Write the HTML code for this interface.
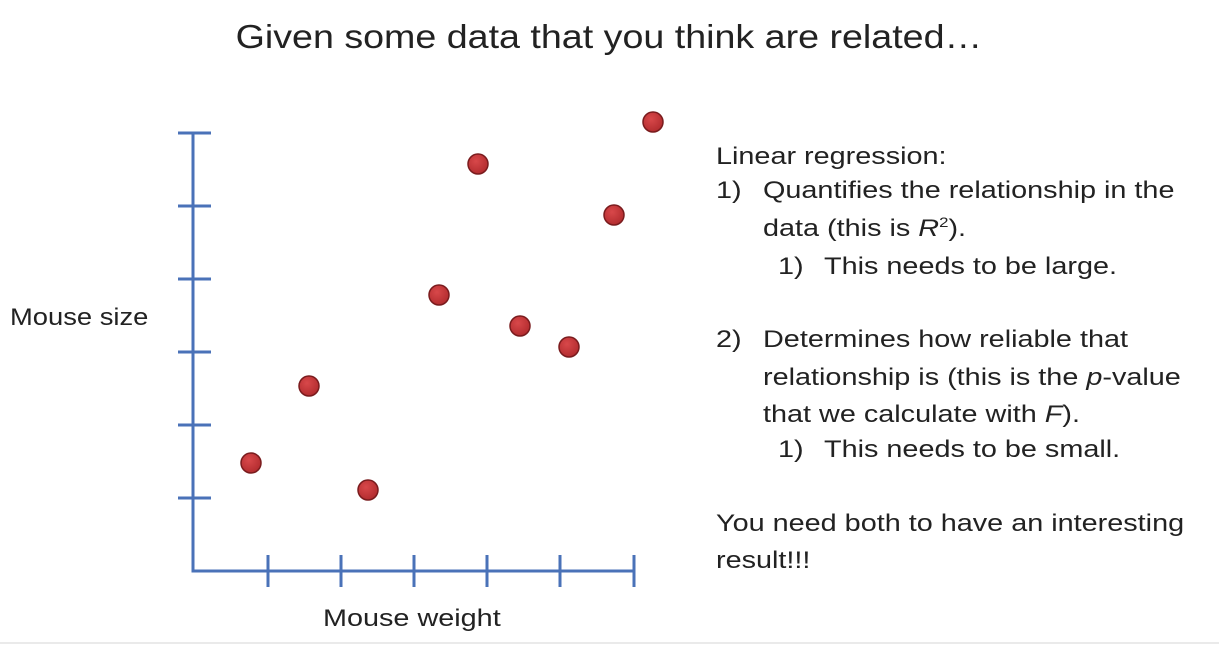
<!DOCTYPE html>
<html><head><meta charset="utf-8"><style>
html,body{margin:0;padding:0;background:#fff;}
body{width:1219px;height:646px;position:relative;overflow:hidden;font-family:"Liberation Sans",sans-serif;color:#222;}
.t{position:absolute;white-space:nowrap;font-size:24px;transform:scaleX(1.2);transform-origin:0 0;}
</style></head><body>
<div class="t" style="left:0;width:1219px;text-align:center;top:18px;font-size:33px;transform:scaleX(1.14);transform-origin:614px 0;">Given some data that you think are related…</div>
<svg width="1219" height="646" style="position:absolute;left:0;top:0">
<defs><radialGradient id="g" cx="40%" cy="35%" r="70%"><stop offset="0" stop-color="#d8484a"/><stop offset="1" stop-color="#b02a2d"/></radialGradient></defs>
<g stroke="#4a72b8" stroke-width="3" fill="none">
<polyline points="193,133 193,571 634,571"/>
<line x1="178" y1="133" x2="211" y2="133"/><line x1="178" y1="206" x2="211" y2="206"/><line x1="178" y1="279" x2="211" y2="279"/><line x1="178" y1="352" x2="211" y2="352"/><line x1="178" y1="425" x2="211" y2="425"/><line x1="178" y1="498" x2="211" y2="498"/>
<line x1="268" y1="555" x2="268" y2="587"/><line x1="341" y1="555" x2="341" y2="587"/><line x1="414" y1="555" x2="414" y2="587"/><line x1="487" y1="555" x2="487" y2="587"/><line x1="560" y1="555" x2="560" y2="587"/><line x1="634" y1="555" x2="634" y2="587"/>
</g>
<g fill="url(#g)" stroke="#7a1c1e" stroke-width="1.5">
<circle cx="251" cy="463" r="10"/><circle cx="309" cy="386" r="10"/><circle cx="368" cy="490" r="10"/><circle cx="439" cy="295" r="10"/><circle cx="478" cy="164" r="10"/><circle cx="520" cy="326" r="10"/><circle cx="569" cy="347" r="10"/><circle cx="614" cy="215" r="10"/><circle cx="653" cy="122" r="10"/>
</g>
<line x1="0" y1="643" x2="1219" y2="643" stroke="#e4e4e4" stroke-width="1.5"/>
</svg>
<div class="t" style="left:10px;top:304px;transform:scaleX(1.14);">Mouse size</div>
<div class="t" style="left:323px;top:605px;">Mouse weight</div>
<div class="t" style="left:716px;top:143px;">Linear regression:</div>
<div class="t" style="left:716px;top:177px;">1)</div>
<div class="t" style="left:763px;top:177px;">Quantifies the relationship in the</div>
<div class="t" style="left:763px;top:214px;">data (this is <i>R</i><sup style="font-size:14px">2</sup>).</div>
<div class="t" style="left:778px;top:253px;">1)</div>
<div class="t" style="left:824px;top:253px;">This needs to be large.</div>
<div class="t" style="left:716px;top:326px;">2)</div>
<div class="t" style="left:763px;top:326px;">Determines how reliable that</div>
<div class="t" style="left:763px;top:364px;">relationship is (this is the <i>p</i>-value</div>
<div class="t" style="left:763px;top:401px;">that we calculate with <i>F</i>).</div>
<div class="t" style="left:778px;top:436px;">1)</div>
<div class="t" style="left:824px;top:436px;">This needs to be small.</div>
<div class="t" style="left:716px;top:510px;">You need both to have an interesting</div>
<div class="t" style="left:716px;top:547px;">result!!!</div>
</body></html>
